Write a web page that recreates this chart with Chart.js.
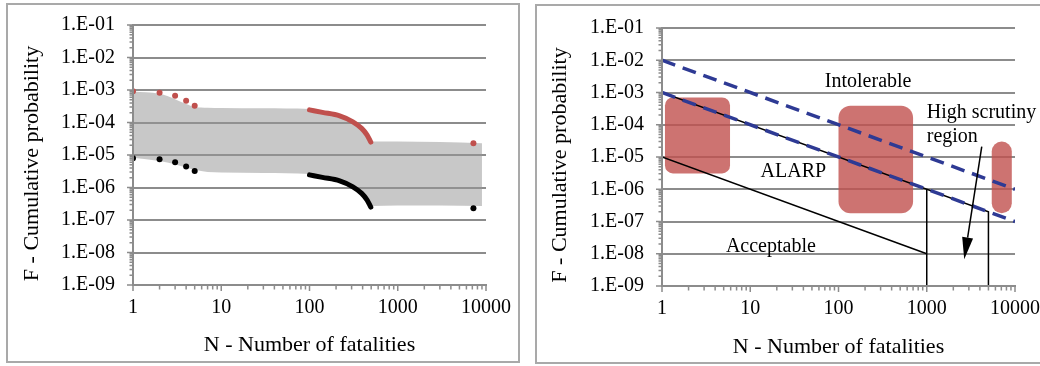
<!DOCTYPE html>
<html>
<head>
<meta charset="utf-8">
<script src="https://cdn.jsdelivr.net/npm/chart.js@4.4.1/dist/chart.umd.min.js"></script>
<style>
  html, body { margin: 0; padding: 0; background: #fff; overflow: hidden; width: 1040px; height: 366px; }
  .frame { position: absolute; box-sizing: border-box; border: 2px solid #a9a9a9; }
  #frameLeft { left: 6px; top: 3px; width: 514px; height: 360px; }
  #frameRight { left: 535px; top: 4px; width: 520px; height: 360px; }
  canvas { position: absolute; }
  #fnData { left: 8px; top: 5px; }
  #fnCriteria { left: 537px; top: 6px; }
</style>
</head>
<body>
<div class="frame" id="frameLeft"></div>
<div class="frame" id="frameRight"></div>
<canvas id="fnData" width="509" height="356"></canvas>
<canvas id="fnCriteria" width="506" height="356"></canvas>
<script>
// ---- axes ----
const xMajorTicks = [1, 10, 100, 1000, 10000];
const xTickLabels = ['1', '10', '100', '1000', '10000'];
const yMajorTicks = [1e-9, 1e-8, 1e-7, 1e-6, 1e-5, 1e-4, 1e-3, 1e-2, 1e-1];
const yTickLabels = ['1.E-09', '1.E-08', '1.E-07', '1.E-06', '1.E-05', '1.E-04', '1.E-03', '1.E-02', '1.E-01'];
const xTitle = 'N - Number of fatalities';
const yTitle = 'F - Cumulative probability';

// ---- left chart: F-N results ----
const pointN = [1, 2, 3, 4, 5, 7200];
const upperPointF = [9.1e-4, 8.3e-4, 6.7e-4, 4.7e-4, 3.3e-4, 2.3e-5];
const lowerPointF = [7.9e-6, 7.4e-6, 6.0e-6, 4.4e-6, 3.2e-6, 2.3e-7];

const curveN = [100, 140, 220, 310, 390, 450, 495];
const upperCurveF = [2.45e-4, 2.05e-4, 1.6e-4, 1.05e-4, 6.6e-5, 4.1e-5, 2.5e-5];
const lowerCurveF = [2.45e-6, 2.05e-6, 1.6e-6, 1.05e-6, 6.6e-7, 4.1e-7, 2.5e-7];

const bandN = [1, 2, 3, 4, 5, 7, 10, 30, 100, 140, 220, 310, 390, 450, 500, 1000, 3000, 9000];
const bandTopF = [9.0e-4, 7.6e-4, 5.2e-4, 3.7e-4, 3.0e-4, 2.85e-4, 2.8e-4, 2.75e-4, 2.6e-4, 2.1e-4, 1.65e-4, 1.08e-4, 6.8e-5, 4.2e-5, 2.6e-5, 2.6e-5, 2.5e-5, 2.3e-5];
const bandBottomF = [8.3e-6, 6.5e-6, 5.2e-6, 4.1e-6, 3.5e-6, 3.0e-6, 2.9e-6, 2.8e-6, 2.6e-6, 2.0e-6, 1.6e-6, 1.05e-6, 6.6e-7, 4.1e-7, 2.7e-7, 2.8e-7, 2.8e-7, 2.7e-7];

// ---- right chart: criterion lines ----
const upperCriterionN = [1, 10000];
const upperCriterionF = [1e-2, 1e-6];
const lowerCriterionN = [1, 10000];
const lowerCriterionF = [1e-3, 1e-7];
const alarpLimitN = [1, 5000, 5000];
const alarpLimitF = [1e-3, 2e-7, 1e-9];
const acceptableN = [1, 1000];
const acceptableF = [1e-5, 1e-8];
const cutoffN = [1000, 1000];
const cutoffF = [1e-6, 1e-9];

// shaded regions (N range, F range)
const regionNMin = [1.08, 100, 5450];
const regionNMax = [5.9, 700, 9200];
const regionFMin = [3.1e-6, 1.8e-7, 1.8e-7];
const regionFMax = [7.0e-4, 3.9e-4, 3.0e-5];

// region labels, anchored at their left edge
const labelText = ['Intolerable', 'High scrutiny', 'region', 'ALARP', 'Acceptable'];
const labelN = [70, 1000, 1000, 13.1, 5.3];
const labelF = [2.1e-3, 2.3e-4, 4.2e-5, 3.4e-6, 1.7e-8];

// arrow from the label down into the region
const arrowN = [4200, 2660];
const arrowF = [2.1e-5, 6.7e-9];

// ---- styling ----
const axisGray = '#8c8c8c';
const red = '#C0504D';
const blue = '#2E3A94';
const serif = '"Liberation Serif", "Times New Roman", serif';
const regionRadius = [8, 12, 10];
const none = 'rgba(0,0,0,0)';

function zip(xs, ys) {
    return xs.map((v, i) => ({x: v, y: ys[i]}));
}

function withMinors(majors) {
    const out = [];
    majors.forEach((m, i) => {
        out.push({value: m, major: true});
        if (i < majors.length - 1) {
            for (let k = 2; k <= 9; k++) out.push({value: k * m, major: false});
        }
    });
    return out;
}

// label gaps come from invisible tick marks so the layout padding stays put
function buildScales() {
    return {
        x: {
            type: 'logarithmic', min: 1, max: 10000,
            afterBuildTicks: s => { s.ticks = withMinors(xMajorTicks); },
            afterFit: s => { s.height = 76; },
            grid: {display: true, drawOnChartArea: false, drawTicks: true, tickLength: 11,
                color: none, tickColor: none},
            border: {display: true, color: axisGray, width: 2, z: 1},
            ticks: {
                autoSkip: false, maxRotation: 0, padding: 0, color: '#000',
                font: {family: serif, size: 20},
                callback: v => {
                    const i = xMajorTicks.indexOf(v);
                    return i < 0 ? '' : xTickLabels[i];
                }
            }
        },
        y: {
            type: 'logarithmic', min: 1e-9, max: 1e-1,
            afterBuildTicks: s => { s.ticks = withMinors(yMajorTicks); },
            afterFit: s => { s.width = 125; },
            grid: {
                drawTicks: true, tickLength: 18, tickColor: none, lineWidth: 2,
                color: c => (c.tick && c.tick.major) ? axisGray : none
            },
            border: {display: true, color: axisGray, width: 2, z: 1},
            ticks: {
                autoSkip: false, padding: 0, color: '#000',
                font: {family: serif, size: 20},
                callback: v => {
                    const i = yMajorTicks.indexOf(v);
                    return i < 0 ? '' : yTickLabels[i];
                }
            }
        }
    };
}

// small tick marks outside both axes, longer at each decade
const tickMarks = {
    id: 'tickMarks',
    afterDraw(chart) {
        const {ctx, chartArea: a, scales: {x, y}} = chart;
        ctx.save();
        ctx.strokeStyle = axisGray;
        ctx.lineWidth = 1.5;
        ctx.beginPath();
        y.ticks.forEach(t => {
            const py = y.getPixelForValue(t.value);
            ctx.moveTo(a.left, py);
            ctx.lineTo(a.left - (t.major ? 6 : 3.5), py);
        });
        x.ticks.forEach(t => {
            const px = x.getPixelForValue(t.value);
            ctx.moveTo(px, a.bottom);
            ctx.lineTo(px, a.bottom + (t.major ? 6 : 4.5));
        });
        ctx.stroke();
        ctx.restore();
    }
};

const axisTitles = {
    id: 'axisTitles',
    afterDraw(chart, args, opts) {
        const {ctx, chartArea: a} = chart;
        ctx.save();
        ctx.fillStyle = '#000';
        ctx.font = '22px ' + serif;
        ctx.textAlign = 'center';
        ctx.textBaseline = 'middle';
        ctx.fillText(xTitle, (a.left + a.right) / 2, a.bottom + opts.xGap);
        ctx.translate(opts.yLeft, (a.top + a.bottom) / 2 + opts.yShift);
        ctx.rotate(-Math.PI / 2);
        ctx.fillText(yTitle, 0, 0);
        ctx.restore();
    }
};

const regions = {
    id: 'regions',
    beforeDatasetsDraw(chart) {
        const {ctx, scales: {x, y}} = chart;
        ctx.save();
        ctx.fillStyle = 'rgba(192, 80, 77, 0.8)';
        regionNMin.forEach((n, i) => {
            const x0 = x.getPixelForValue(n), x1 = x.getPixelForValue(regionNMax[i]);
            const y0 = y.getPixelForValue(regionFMax[i]), y1 = y.getPixelForValue(regionFMin[i]);
            ctx.beginPath();
            ctx.roundRect(x0, y0, x1 - x0, y1 - y0, regionRadius[i]);
            ctx.fill();
        });
        ctx.restore();
    }
};

const regionLabels = {
    id: 'regionLabels',
    afterDatasetsDraw(chart) {
        const {ctx, scales: {x, y}} = chart;
        ctx.save();
        ctx.fillStyle = '#000';
        ctx.font = '20px ' + serif;
        ctx.textAlign = 'left';
        ctx.textBaseline = 'middle';
        labelText.forEach((t, i) => {
            ctx.fillText(t, x.getPixelForValue(labelN[i]), y.getPixelForValue(labelF[i]));
        });

        // arrow
        const sx = x.getPixelForValue(arrowN[0]), sy = y.getPixelForValue(arrowF[0]);
        const tx = x.getPixelForValue(arrowN[1]), ty = y.getPixelForValue(arrowF[1]);
        const ang = Math.atan2(ty - sy, tx - sx);
        const head = 22, half = 5.5;
        const bx = tx - head * Math.cos(ang), by = ty - head * Math.sin(ang);
        ctx.strokeStyle = '#000';
        ctx.lineWidth = 1.5;
        ctx.beginPath();
        ctx.moveTo(sx, sy);
        ctx.lineTo(bx, by);
        ctx.stroke();
        ctx.beginPath();
        ctx.moveTo(tx, ty);
        ctx.lineTo(bx + half * Math.sin(ang), by - half * Math.cos(ang));
        ctx.lineTo(bx - half * Math.sin(ang), by + half * Math.cos(ang));
        ctx.closePath();
        ctx.fill();
        ctx.restore();
    }
};

const common = {
    responsive: false,
    animation: false,
    events: [],
    plugins: {legend: {display: false}, tooltip: {enabled: false}}
};

new Chart(document.getElementById('fnData'), {
    type: 'scatter',
    data: {
        datasets: [
            {data: zip(bandN, bandTopF), showLine: true, borderWidth: 0, pointRadius: 0,
                cubicInterpolationMode: 'monotone', order: 10},
            {data: zip(bandN, bandBottomF), showLine: true, borderWidth: 0, pointRadius: 0,
                cubicInterpolationMode: 'monotone', fill: '-1',
                backgroundColor: 'rgba(150, 150, 150, 0.52)', order: 9},
            {data: zip(curveN, upperCurveF), showLine: true, borderColor: red, borderWidth: 5,
                borderCapStyle: 'round', cubicInterpolationMode: 'monotone', pointRadius: 0, order: 2},
            {data: zip(curveN, lowerCurveF), showLine: true, borderColor: '#000', borderWidth: 5,
                borderCapStyle: 'round', cubicInterpolationMode: 'monotone', pointRadius: 0, order: 2},
            {data: zip(pointN, upperPointF), pointRadius: 3, pointBorderWidth: 0,
                backgroundColor: red, order: 1},
            {data: zip(pointN, lowerPointF), pointRadius: 3, pointBorderWidth: 0,
                backgroundColor: '#000', order: 1}
        ]
    },
    options: Object.assign({}, common, {
        layout: {padding: {left: 0, top: 20, right: 31, bottom: 0}},
        scales: buildScales(),
        plugins: Object.assign({}, common.plugins, {
            axisTitles: {xGap: 60, yLeft: 24, yShift: 8.5}
        })
    }),
    plugins: [tickMarks, axisTitles]
});

new Chart(document.getElementById('fnCriteria'), {
    type: 'scatter',
    data: {
        datasets: [
            {data: zip(upperCriterionN, upperCriterionF), showLine: true, borderColor: blue,
                borderWidth: 3.5, borderDash: [14, 8], pointRadius: 0},
            {data: zip(lowerCriterionN, lowerCriterionF), showLine: true, borderColor: blue,
                borderWidth: 3.5, borderDash: [14, 8], pointRadius: 0},
            {data: zip(alarpLimitN, alarpLimitF), showLine: true, borderColor: '#000',
                borderWidth: 1.5, pointRadius: 0},
            {data: zip(acceptableN, acceptableF), showLine: true, borderColor: '#000',
                borderWidth: 1.5, pointRadius: 0},
            {data: zip(cutoffN, cutoffF), showLine: true, borderColor: '#000',
                borderWidth: 1.5, pointRadius: 0}
        ]
    },
    options: Object.assign({}, common, {
        layout: {padding: {left: 0, top: 22, right: 28, bottom: 0}},
        scales: buildScales(),
        plugins: Object.assign({}, common.plugins, {
            axisTitles: {xGap: 61, yLeft: 23, yShift: 8}
        })
    }),
    plugins: [regions, regionLabels, tickMarks, axisTitles]
});
</script>
</body>
</html>
